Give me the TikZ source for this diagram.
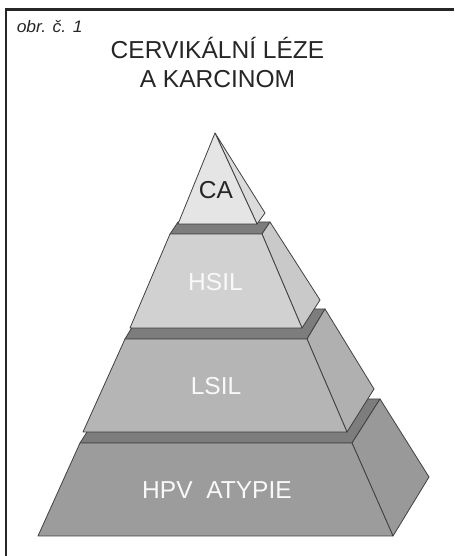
\documentclass[tikz,border=0pt]{standalone}
\usepackage{fontspec}
\setmainfont{Liberation Sans}
\usepackage{tikz}
\usetikzlibrary{calc}
\usepackage{tkz-euclide}
\definecolor{edge}{gray}{0.25}
\definecolor{strip}{gray}{0.49}
\definecolor{cafront}{gray}{0.90}
\definecolor{caside}{gray}{0.86}
\definecolor{hsfront}{gray}{0.82}
\definecolor{hsside}{gray}{0.79}
\definecolor{lsfront}{gray}{0.71}
\definecolor{lsside}{gray}{0.69}
\definecolor{hpfront}{gray}{0.61}
\definecolor{hpside}{gray}{0.60}
\tikzset{
  face/.style={draw=edge, line width=0.6pt, line join=round},
  tierlabel/.style={anchor=base, text=white!95!gray, font=\fontsize{18.4}{22}\selectfont},
}

\begin{document}
\begin{tikzpicture}[x=0.75pt, y=0.75pt]
            \useasboundingbox (0,0) rectangle (454,556);
            \draw[line width=1.9pt, color=black!85] (6,0) -- (6,546.5) -- (454,546.5);
            % bottom tier
            \tkzDefPoints{80/113/P1, 352/113/P2, 380/157/P3, 108/157/P4, 429/79/P5, 393/20/P6, 38/20/P7}
            % second tier
            \tkzDefPoints{125/217/L1, 307/217/L2, 325/247/L3, 143/247/L4, 374/167/L5, 347/124/L6, 83/124/L7}
            % third tier
            \tkzDefPoints{170/322/H1, 262/322/H2, 270/334/H3, 178/334/H4, 320/256/H5, 302/228/H6, 130/228/H7}
            % top
            \tkzDefPoints{215/423/C1, 178/332/C2, 257/332/C3, 265/343/C4}
            \tkzDrawPolygon[face, fill=strip](P1,P2,P3,P4)
            \tkzDrawPolygon[face, fill=hpside](P2,P3,P5,P6)
            \tkzDrawPolygon[face, fill=hpfront](P1,P2,P6,P7)
            \tkzDrawPolygon[face, fill=strip](L1,L2,L3,L4)
            \tkzDrawPolygon[face, fill=lsside](L2,L3,L5,L6)
            \tkzDrawPolygon[face, fill=lsfront](L1,L2,L6,L7)
            \tkzDrawPolygon[face, fill=strip](H1,H2,H3,H4)
            \tkzDrawPolygon[face, fill=hsside](H2,H3,H5,H6)
            \tkzDrawPolygon[face, fill=hsfront](H1,H2,H6,H7)
            \tkzDrawPolygon[face, fill=caside](C1,C4,C3)
            \tkzDrawPolygon[face, fill=cafront](C1,C3,C2)
            \node[tierlabel] (hpv) at (217,57) {HPV\ \ ATYPIE};
            \node[tierlabel] (lsil) at (216,161) {LSIL};
            \node[tierlabel] (hsil) at (215.5,265.5) {HSIL};
            \node[tierlabel, text=black!85] (ca) at (216,357.5) {CA};
            \node[tierlabel, text=black!85] (title1) at (217.5,497) {CERVIK\'ALN\'I L\'EZE};
            \node[tierlabel, text=black!85] (title2) at (217.5,468.5) {A KARCINOM};
            \node[anchor=base west, inner sep=0pt, text=black!85] (fig) at (16.5,523.7)
                {\scalebox{1.05}[1]{\fontsize{12.5}{14}\selectfont\itshape obr. č. 1}};
        \end{tikzpicture}
\end{document}
